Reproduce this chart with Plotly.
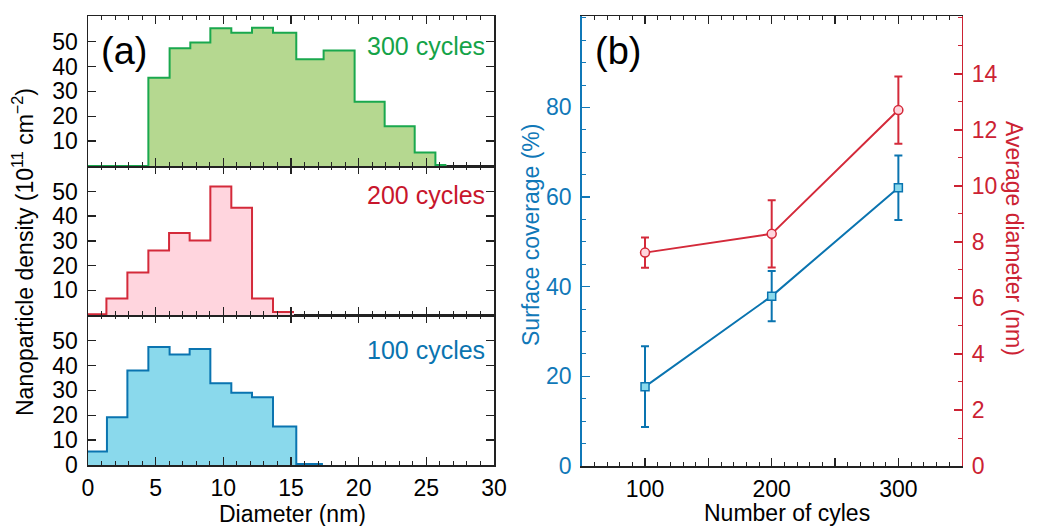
import plotly.graph_objects as go

# ---------------- Panel (a): nanoparticle density histograms ----------------
edges_300 = [0, 4.46, 6.03, 7.56, 9.04, 10.59, 12.12, 13.67, 15.39, 17.41, 19.70, 21.92, 24.14, 25.67, 26.48]
dens_300 = [0, 35.5, 47.3, 49.6, 55.4, 53.6, 55.6, 53.6, 42.9, 46.4, 25.8, 16.0, 5.4, 0.4]

edges_200 = [0, 1.36, 2.91, 4.46, 5.99, 7.51, 9.04, 10.59, 12.12, 13.67, 15.22]
dens_200 = [0.3, 6.7, 17.2, 26.1, 33.2, 30.2, 52.0, 43.4, 6.7, 1.2]

edges_100 = [0, 1.40, 2.91, 4.46, 6.03, 7.51, 9.04, 10.59, 12.12, 13.67, 15.39, 17.36]
dens_100 = [5.4, 19.2, 38.0, 47.4, 44.4, 46.6, 32.9, 29.0, 27.2, 15.5, 0.4]

# ---------------- Panel (b): coverage and diameter vs cycles ----------------
cycles = [100, 200, 300]
coverage = [17.7, 37.9, 62.1]
coverage_err = [9.0, 5.6, 7.2]
diameter = [7.62, 8.29, 12.71]
diameter_err = [0.54, 1.2, 1.2]

cycle_ticks = [100, 200, 300]
cycle_half_ticks = [150, 250]

W, H = 1057, 526
FONT = "Liberation Sans, Arial, Helvetica, sans-serif"
FS = 23
GREEN, GREEN_FILL, GREEN_TXT = "#1aa84e", "#b5d890", "#14a348"
RED, RED_FILL, RED_TXT = "#d42a3a", "#ffd5de", "#c8162c"
BLUE, BLUE_FILL, BLUE_TXT = "#0a74b0", "#8ad9ec", "#0a74b0"
AX_BLUE = "#1078b8"
AX_RED = "#cc2233"


def px(x):
    return x / W


def py(y):
    return 1 - y / H


fig = go.Figure()


def hist_trace(edges, vals, line, fill, xa, ya):
    return go.Scatter(
        x=edges, y=list(vals) + [vals[-1]], mode="lines",
        line=dict(shape="hv", color=line, width=2),
        fill="tozeroy", fillcolor=fill, xaxis=xa, yaxis=ya,
        showlegend=False, hoverinfo="skip",
    )


fig.add_trace(hist_trace(edges_100, dens_100, BLUE, BLUE_FILL, "x", "y"))
fig.add_trace(hist_trace(edges_200, dens_200, RED, RED_FILL, "x2", "y2"))
fig.add_trace(hist_trace(edges_300, dens_300, GREEN, GREEN_FILL, "x3", "y3"))

fig.add_trace(go.Scatter(
    x=cycles, y=coverage, mode="lines+markers",
    line=dict(color=BLUE, width=2),
    marker=dict(symbol="square", size=8, color=BLUE_FILL, line=dict(color=BLUE, width=1.5)),
    error_y=dict(type="data", array=coverage_err, color=BLUE, thickness=2, width=4),
    xaxis="x4", yaxis="y4", showlegend=False,
))
fig.add_trace(go.Scatter(
    x=cycles, y=diameter, mode="lines+markers",
    line=dict(color=RED, width=2),
    marker=dict(symbol="circle", size=9, color=RED_FILL, line=dict(color=RED, width=1.5)),
    error_y=dict(type="data", array=diameter_err, color=RED, thickness=2, width=4),
    xaxis="x4", yaxis="y5", showlegend=False,
))

tickfont = dict(family=FONT, size=FS, color="black")
xa_dom = [px(88), px(494)]


def xa_common(anchor, labels):
    return dict(
        domain=xa_dom, range=[0, 30], anchor=anchor, dtick=5, tick0=0,
        ticks="inside", ticklen=8, tickwidth=1.5, tickcolor="#222",
        minor=dict(dtick=1, ticks="inside", ticklen=4, tickwidth=1, tickcolor="#222"),
        showline=True, linecolor="#222", linewidth=1.5, mirror="ticks",
        showgrid=False, zeroline=False, showticklabels=labels, tickfont=tickfont,
        ticklabelstandoff=2, automargin=False,
    )


def ya_common(dom, anchor, vals):
    return dict(
        domain=dom, range=[0, 60.3], anchor=anchor, tickvals=vals,
        ticks="inside", ticklen=8, tickwidth=1.5, tickcolor="#222",
        showline=True, linecolor="#222", linewidth=1.5, mirror="ticks",
        showgrid=False, zeroline=False, tickfont=tickfont, ticklabelstandoff=4,
        automargin=False,
    )


xb_dom = [px(581.7), px(961.7)]
yb_dom = [py(466), py(16)]

layout = dict(
    width=W, height=H, margin=dict(l=0, r=0, t=0, b=0),
    paper_bgcolor="white", plot_bgcolor="rgba(0,0,0,0)",
    font=dict(family=FONT, size=FS, color="black"),
    xaxis=xa_common("y", True),
    xaxis2=dict(xa_common("y2", False), matches="x"),
    xaxis3=dict(xa_common("y3", False), matches="x"),
    yaxis=ya_common([py(465), py(315)], "x", [0, 10, 20, 30, 40, 50]),
    yaxis2=ya_common([py(315), py(166)], "x2", [10, 20, 30, 40, 50]),
    yaxis3=ya_common([py(166), py(16)], "x3", [10, 20, 30, 40, 50]),
    xaxis4=dict(
        domain=xb_dom, range=[50, 350], anchor="y4",
        tickvals=cycle_ticks,
        ticks="inside", ticklen=8, tickwidth=1.5, tickcolor="#222",
        minor=dict(dtick=10, tick0=50, ticks="inside", ticklen=4, tickwidth=1, tickcolor="#222"),
        showline=True, linecolor="#222", linewidth=1.5, mirror="ticks",
        showgrid=False, zeroline=False, tickfont=tickfont, ticklabelstandoff=2,
        automargin=False,
    ),
    xaxis5=dict(
        domain=xb_dom, range=[50, 350], anchor="y4", overlaying="x4",
        tickvals=cycle_half_ticks, showticklabels=False,
        ticks="inside", ticklen=8, tickwidth=1.5, tickcolor="#222",
        showline=False, mirror="ticks", showgrid=False, zeroline=False, automargin=False,
    ),
    yaxis4=dict(
        domain=yb_dom, range=[0, 100.4], anchor="x4",
        tickvals=[0, 20, 40, 60, 80],
        ticks="inside", ticklen=8, tickwidth=1.5, tickcolor=AX_BLUE,
        minor=dict(dtick=5, ticks="inside", ticklen=4, tickwidth=1, tickcolor=AX_BLUE),
        showline=True, linecolor=AX_BLUE, linewidth=1.5,
        showgrid=False, zeroline=False,
        tickfont=dict(family=FONT, size=FS, color=AX_BLUE), ticklabelstandoff=4,
        automargin=False,
    ),
    yaxis5=dict(
        domain=yb_dom, range=[0, 16.07], anchor="x4", overlaying="y4", side="right",
        tickvals=[0, 2, 4, 6, 8, 10, 12, 14],
        ticks="inside", ticklen=8, tickwidth=1.5, tickcolor=AX_RED,
        minor=dict(dtick=1, ticks="inside", ticklen=4, tickwidth=1, tickcolor=AX_RED),
        showline=True, linecolor=AX_RED, linewidth=1.5,
        showgrid=False, zeroline=False,
        tickfont=dict(family=FONT, size=FS, color=AX_RED), ticklabelstandoff=4,
        automargin=False,
    ),
)
fig.update_layout(**layout)

# invisible trace so that the helper axis xaxis5 is drawn
fig.add_trace(go.Scatter(x=[cycles[0]], y=[coverage[0]], mode="markers", marker=dict(opacity=0),
                         xaxis="x5", yaxis="y4", showlegend=False, hoverinfo="skip"))


def ann(text, x, y, size=FS, color="black", xanchor="center", angle=0):
    fig.add_annotation(
        text=text, x=px(x), y=py(y), xref="paper", yref="paper",
        showarrow=False, xanchor=xanchor, yanchor="middle", textangle=angle,
        font=dict(family=FONT, size=size, color=color),
    )


ann("(a)", 99, 51, size=38, xanchor="left")
ann("(b)", 593, 51, size=38, xanchor="left")
ann("300 cycles", 487, 46, size=25, color=GREEN_TXT, xanchor="right")
ann("200 cycles", 487, 195, size=25, color=RED_TXT, xanchor="right")
ann("100 cycles", 487, 350, size=25, color=BLUE_TXT, xanchor="right")
ann("Diameter (nm)", 292, 514)
ann("Number of cyles", 787, 513)
ann("Nanoparticle density (10<sup>11</sup> cm<sup>−2</sup>)", 23, 252, angle=-90)
ann("Surface coverage (%)", 531, 235, color=AX_BLUE, angle=-90)
ann("Average diameter (nm)", 1014, 238, color=AX_RED, angle=90)

fig.write_html(
    "out.html",
    config={"displayModeBar": False, "staticPlot": True},
    post_script="document.body.style.margin='0';document.body.style.padding='0';"
                "document.documentElement.style.overflow='hidden';",
)
